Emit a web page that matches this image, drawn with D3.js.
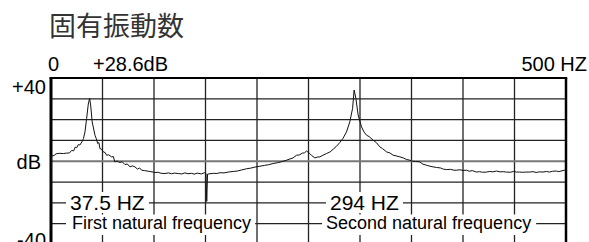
<!DOCTYPE html>
<html>
<head>
<meta charset="utf-8">
<script src="https://cdn.jsdelivr.net/npm/d3@7"></script>
<style>
body { margin: 0; background: #fff; }
svg { display: block; }
</style>
</head>
<body>
<svg id="chart" width="589" height="242"></svg>
<script>

var title = "固有振動数";

// spectrum: Hz and dB
var freqHz = [0, 0.5, 3, 5, 8, 12, 15, 18, 20, 22, 23.5, 25, 26.5, 28, 30, 31.5, 33, 34.6, 36.2, 37.5,
    38.5, 40, 42.7, 44, 45.3, 46.5, 47.5, 49, 50.8, 52.5, 54, 56, 58.9, 60.5, 62, 64, 67, 69, 71.8, 74,
    76.7, 79, 81.5, 84, 86, 88, 91, 94.4, 97, 100.9, 104, 107, 110.6, 114, 117, 120, 123.5, 127, 130, 133,
    136.5, 139, 142, 146, 149, 150.5, 151.2, 152, 154.3, 158, 161, 164, 168, 172, 176.9, 181, 185, 189.9, 194, 198,
    202.8, 207, 211, 215.7, 220, 224, 228.7, 232, 235, 238.4, 241, 244, 246, 248.1, 250, 251.3, 253, 256.2, 258.5, 261,
    264, 267.5, 271, 274, 277, 280.4, 283.5, 286.9, 290.1, 292.8, 294.3, 296, 298.2, 301.5, 304, 306.4, 309, 312.8,
    316, 319.3, 322, 325.8, 329, 332.2, 335, 338.7, 342, 345, 348.4, 351, 354, 358.1, 361, 364.6, 368, 371,
    374.3, 378, 381, 384, 388, 391, 393.7, 397, 400, 403.4, 406, 409, 413.1, 416, 419, 422.8, 426, 429,
    432.5, 436, 439, 442.2, 446, 449, 451.9, 455, 458, 461, 464.8, 468, 471, 474, 477.7, 481, 484, 487,
    490.7, 493, 496, 498.8, 500];
var levelDb = [-14, 2.4, 2.8, 3.6, 3.8, 3.7, 3.9, 4.0, 5.2, 5.0, 6.8, 6.5, 8.0, 7.8, 9.3, 10.9, 14.1, 20.6, 27.5, 30.2,
    27.0, 18.9, 12.5, 10.8, 8.5, 9.0, 6.1, 5.8, 4.5, 4.2, 2.9, 3.1, 2.1, 2.3, -0.3, 0.1, -0.6, -0.2, -1.6, -1.3,
    -2.7, -2.2, -2.7, -3.8, -3.2, -4.3, -4.5, -4.8, -5.0, -5.4, -5.3, -5.8, -5.9, -5.6, -6.0, -5.7, -5.9, -6.1, -5.6, -6.0,
    -5.8, -6.2, -5.7, -6.1, -5.5, -5.9, -19.3, -6.2, -6.0, -5.8, -5.9, -5.5, -5.6, -5.2, -4.9, -4.7, -4.2, -3.6, -3.3, -2.8,
    -2.4, -2.0, -1.7, -1.1, -0.7, -0.2, 0.5, 1.1, 1.6, 2.9, 3.0, 3.9, 4.0, 4.9, 4.2, 3.7, 2.8, 1.6, 2.0, 2.1,
    2.9, 3.7, 4.5, 5.8, 7.1, 9.0, 11.0, 14.1, 18.9, 25.4, 34.2, 30.2, 22.2, 16.5, 14.0, 12.5, 11.8, 10.1,
    8.9, 6.9, 6.0, 4.5, 4.0, 2.9, 2.6, 2.1, 1.6, 0.9, 0.5, 0.0, -0.1, -0.3, -1.4, -1.9, -2.4, -2.7,
    -3.0, -3.2, -3.8, -4.0, -3.9, -4.3, -4.3, -4.1, -4.4, -4.3, -4.8, -4.5, -5.2, -5.0, -5.3, -5.2, -4.9, -5.1,
    -4.7, -5.1, -5.0, -5.2, -5.3, -4.9, -5.2, -5.2, -5.3, -5.2, -5.2, -5.0, -5.4, -5.1, -5.2, -4.9, -5.2, -4.8,
    -4.7, -5.0, -4.6, -4.3, -4.6];

var gridHz = [0, 50, 100, 150, 200, 250, 300, 350, 400, 450, 500];
var gridDb = [-40, -30, -20, -10, 0, 10, 20, 30, 40];

var peakLabels = ["37.5 HZ", "294 HZ"];
var peakNames = ["First natural frequency", "Second natural frequency"];

var svg = d3.select("#chart");

var x = d3.scaleLinear().domain([0, 500]).range([51, 566]);
var y = d3.scaleLinear().domain([-40, 40]).range([244.5, 78]);

svg.append("text")
    .attr("x", 49).attr("y", 35.5)
    .style("font-family", "'Noto Sans CJK JP'")
    .style("font-size", "27px")
    .style("fill", "#333")
    .text(title);

// grid
svg.selectAll("line.v").data(gridHz).enter().append("line")
    .attr("class", "v")
    .attr("x1", d => x(d)).attr("x2", d => x(d))
    .attr("y1", y(40)).attr("y2", y(-40))
    .style("stroke", "#222").style("stroke-width", 1.3);

svg.selectAll("line.h").data(gridDb).enter().append("line")
    .attr("class", "h")
    .attr("x1", x(0)).attr("x2", x(500))
    .attr("y1", d => y(d)).attr("y2", d => y(d))
    .style("stroke", d => d == 0 ? "#777" : "#222")
    .style("stroke-width", d => d == 0 ? 2.2 : 1.3);

// labels with white box knocking out the grid
function boxLabel(txt, lx, ly, size, padL, padR, top, bottom) {
    var t = svg.append("text")
        .attr("x", lx).attr("y", ly)
        .style("font-family", "'Liberation Sans', Arial")
        .style("font-size", size + "px")
        .text(txt);
    var bb = t.node().getBBox();
    svg.insert("rect", function(){ return t.node(); })
        .attr("x", bb.x - padL).attr("y", top)
        .attr("width", bb.width + padL + padR).attr("height", bottom - top)
        .style("fill", "#fff");
}

boxLabel(peakLabels[0], 70, 210, 21, 4, 4, 192, 213);
boxLabel(peakNames[0], 72, 229, 18, 6, 4, 214.5, 235);
boxLabel(peakLabels[1], 330, 210, 21, 4, 4, 192, 213);
boxLabel(peakNames[1], 326, 229, 18, 4, 5, 214.5, 235);

// frame
svg.append("line").attr("x1", x(0)).attr("x2", x(0)).attr("y1", y(40)).attr("y2", 242)
    .style("stroke", "#000").style("stroke-width", 3);
svg.append("line").attr("x1", x(500)).attr("x2", x(500)).attr("y1", y(40)).attr("y2", 242)
    .style("stroke", "#000").style("stroke-width", 2.5);
svg.append("line").attr("x1", x(0) - 1.5).attr("x2", x(500) + 1.2).attr("y1", y(40)).attr("y2", y(40))
    .style("stroke", "#000").style("stroke-width", 2);

// spectrum
var line = d3.line()
    .x((d, i) => x(freqHz[i]))
    .y(d => y(d));

svg.append("path")
    .attr("d", line(levelDb))
    .style("fill", "none")
    .style("stroke", "#111")
    .style("stroke-width", 1);

// axis texts
var axisFont = "'Liberation Sans', Arial";
function label(txt, lx, ly, anchor, size) {
    svg.append("text")
        .attr("x", lx).attr("y", ly)
        .attr("text-anchor", anchor)
        .style("font-family", axisFont)
        .style("font-size", size + "px")
        .text(txt);
}
label("0", 48, 70.5, "start", 20);
label("+28.6dB", 93, 70.5, "start", 20);
label("500 HZ", 587, 70.5, "end", 20);
label("+40", 46, 93.5, "end", 20);
label("dB", 41, 168.5, "end", 20);
label("-40", 46, 247, "end", 20);

</script>
</body>
</html>
